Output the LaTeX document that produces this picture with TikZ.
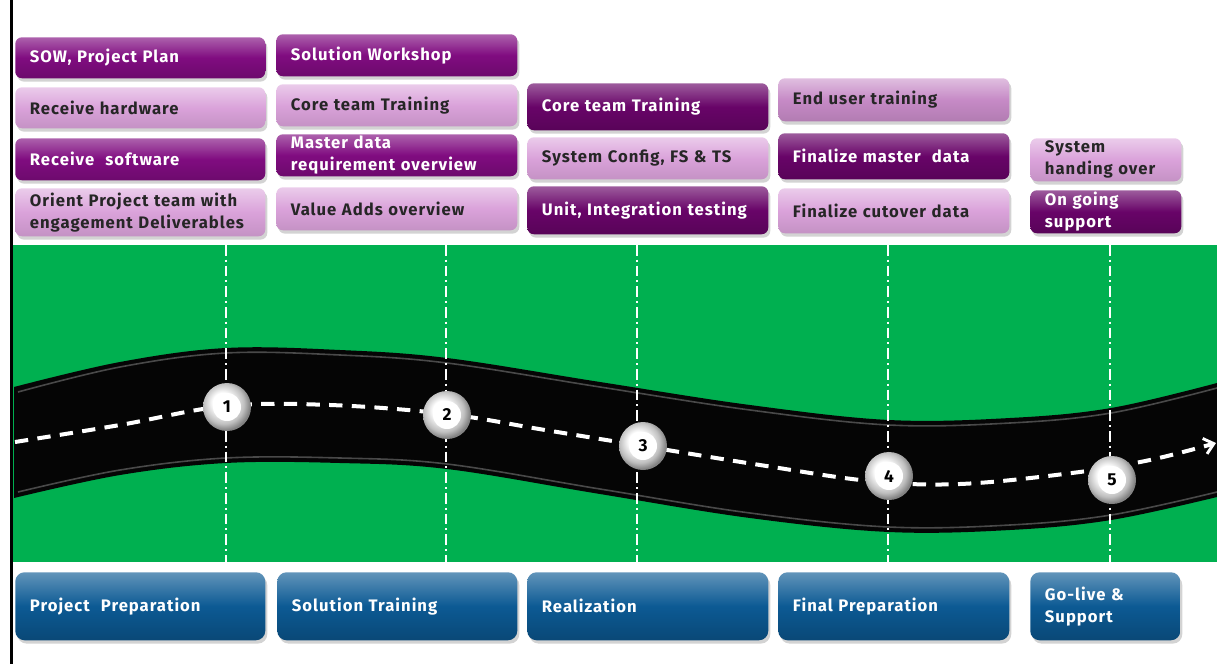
\documentclass[tikz,border=0pt]{standalone}
\usepackage{fontspec}
\setmainfont{Fira Sans}[LetterSpace=6]
\usetikzlibrary{shadows,arrows.meta}
\definecolor{dpA}{RGB}{128,12,128}
\definecolor{dpB}{RGB}{104,4,104}
\definecolor{lpA}{RGB}{218,162,218}
\definecolor{lpB}{RGB}{198,138,198}
\definecolor{grn}{RGB}{0,176,80}
\definecolor{blu}{RGB}{12,90,148}
\pgfdeclareradialshading{milball}{\pgfpoint{-6bp}{6bp}}{%
  color(0bp)=(white); color(10bp)=(white); color(21bp)=(black!25);
  color(27bp)=(black!50); color(31bp)=(black!40); color(50bp)=(black!40)}
\newcommand\mybox[7]{%
  \pgfmathsetmacro\bw{(#5-#3)*0.75}%
  \pgfmathsetmacro\bh{(#6-#4)*0.75}%
  \pgfmathsetmacro\tw{\bw-22}%
  \node[#1, anchor=north west, minimum width=\bw pt, minimum height=\bh pt,
        text width=\tw pt, inner xsep=11pt] (#2) at (#3,#4) {#7};}
\tikzset{
  boxbase/.style={rounded corners=5pt,
    drop shadow={shadow xshift=1.5pt, shadow yshift=-2.5pt, opacity=0.35},
    font=\fontsize{12.5}{16.5}\selectfont\bfseries, align=left, inner ysep=0pt},
  darkbox/.style={boxbase, top color=#1!65!white, bottom color=#1!85!black, middle color=#1, text=white},
  darkbox/.default=dpA,
  lightbox/.style={boxbase, top color=#1!55!white, bottom color=#1!90!black, middle color=#1, text=black!85},
  lightbox/.default=lpA,
  phasebox/.style={boxbase, rounded corners=7pt, top color=blu!65!white, bottom color=blu!80!black, middle color=blu, text=white},
  divider/.style={white, line width=1.3pt, dash pattern=on 8pt off 3pt on 1.5pt off 3pt},
  milestone/.style={circle, minimum size=36pt, inner sep=0pt, shading=milball,
    font=\fontsize{13}{13}\selectfont\bfseries, text=black,
    path picture={\fill[white] (path picture bounding box.center) circle (10.5pt);}},
}
\begin{document}
\begin{tikzpicture}[x=0.75pt, y=-0.75pt]
\useasboundingbox (0,0) rectangle (1217,664);
% green field
\fill[grn] (13,245) rectangle (1217,562);
% road
\fill[black!98] plot[smooth, tension=0.6] coordinates {(14,387) (120,362) (226,348) (340,350) (447,358) (600,382) (750,405) (889,420) (1010,418) (1111,408) (1217,383)}
  -- plot[smooth, tension=0.6] coordinates {(1217,497) (1111,520) (1010,530) (889,532) (750,518) (600,494) (447,469) (340,463) (226,463) (120,475) (14,498)} -- cycle;
\draw[black!60, line width=1.2pt, opacity=0.7] plot[smooth, tension=0.6] coordinates {(18,392) (120,367) (226,353) (340,355) (447,363) (600,387) (750,410) (889,425) (1010,423) (1111,413) (1217,388)};
\draw[black!60, line width=1.2pt, opacity=0.7] plot[smooth, tension=0.6] coordinates {(18,492) (120,470) (226,458) (340,458) (447,464) (600,489) (750,513) (889,527) (1010,525) (1111,515) (1217,492)};
% dividers
\foreach \x in {226,446,637,888,1110} \draw[divider] (\x,245) -- (\x,562);
% center line
\coordinate (rs) at (15,442);
\coordinate (re) at (1216,443);
\draw[white, line width=3pt, dash pattern=on 10pt off 7pt, -{Straight Barb[length=7pt, width=12pt, line width=2.2pt]}]
  plot[smooth, tension=0.6] coordinates {(rs) (120,425) (226,406) (330,405) (447,414) (545,430) (643,446) (760,465) (870,481) (960,484) (1072,473) (1150,460) (re)};
% milestones
\node[milestone] (m1) at (227,407) {1};
\node[milestone] (m2) at (447,415) {2};
\node[milestone] (m3) at (643,446) {3};
\node[milestone] (m4) at (889,476) {4};
\node[milestone] (m5) at (1112,480) {5};
% left rule
\draw[black, line width=2.3pt] (11.5,0) -- (11.5,664);
% column 1
\mybox{darkbox}{b11}{15}{37}{265}{78}{SOW, Project Plan}
\mybox{lightbox}{b12}{15}{87}{265}{128}{Receive hardware}
\mybox{darkbox}{b13}{15}{138}{265}{180}{Receive\ \ software}
\mybox{lightbox}{b14}{15}{188}{265}{236}{Orient Project team with\\engagement Deliverables}
% column 2
\mybox{darkbox}{b21}{276}{34}{517}{76}{Solution Workshop}
\mybox{lightbox}{b22}{276}{84}{517}{126}{Core team Training}
\mybox{darkbox}{b23}{276}{134}{517}{176}{Master data\\requirement overview}
\mybox{lightbox}{b24}{276}{187}{517}{230}{Value Adds overview}
% column 3
\mybox{darkbox=dpB}{b31}{527}{83}{768}{130}{Core team Training}
\mybox{lightbox}{b32}{527}{137}{768}{179}{System Config, FS \& TS}
\mybox{darkbox=dpB}{b33}{527}{186}{768}{234}{Unit, Integration testing}
% column 4
\mybox{lightbox=lpB}{b41}{778}{78}{1009}{121}{End user training}
\mybox{darkbox=dpB}{b42}{778}{133}{1009}{179}{Finalize master\ \ data}
\mybox{lightbox}{b43}{778}{188}{1009}{233}{Finalize cutover data}
% column 5
\mybox{lightbox}{b51}{1030}{138}{1181}{181}{System\\handing over}
\mybox{darkbox=dpB}{b52}{1030}{190}{1181}{233}{On going\\support}
% phases
\mybox{phasebox}{p1}{15}{572}{265}{640}{Project\ \ Preparation}
\mybox{phasebox}{p2}{277}{572}{517}{640}{Solution Training}
\mybox{phasebox}{p3}{527}{572}{768}{640}{Realization}
\mybox{phasebox}{p4}{778}{572}{1009}{640}{Final Preparation}
\mybox{phasebox}{p5}{1030}{572}{1180}{640}{Go-live \&\\Support}
\end{tikzpicture}
\end{document}
